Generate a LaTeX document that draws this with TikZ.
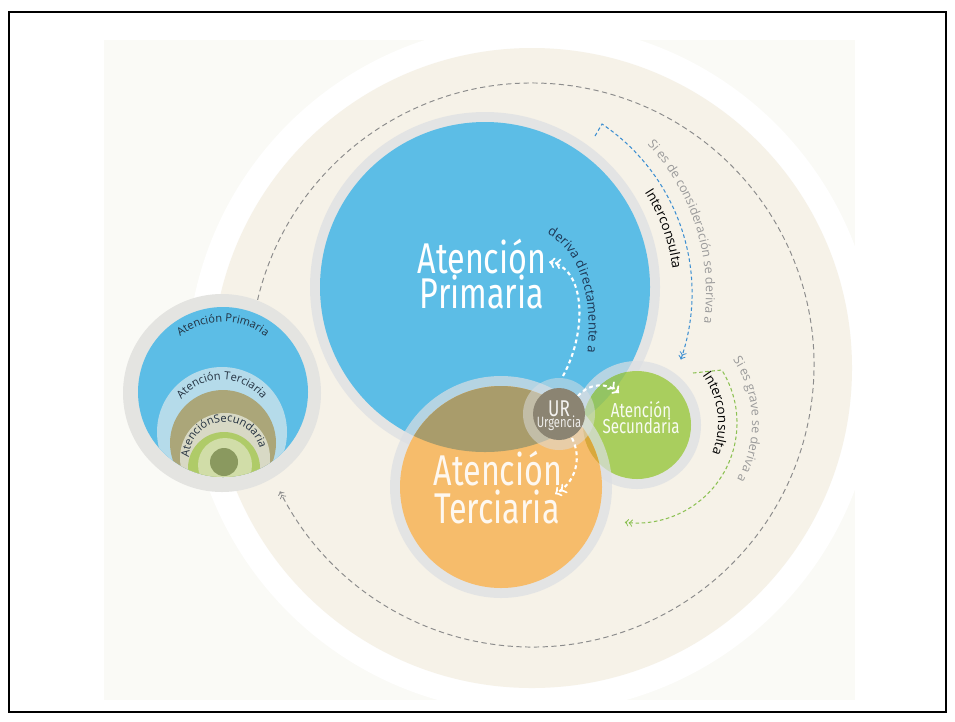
\documentclass[tikz,border=0pt]{standalone}
\usepackage{fontspec}
\setmainfont{Open Sans}
\newfontfamily\titfont[FakeStretch=0.75]{Fira Sans}
\usetikzlibrary{decorations.text}

\definecolor{fondo}{HTML}{FAFAF6}
\definecolor{crema}{HTML}{F6F2E8}
\definecolor{anillo}{HTML}{DCDFE3}
\definecolor{azul}{HTML}{5CBDE6}
\definecolor{naranja}{HTML}{F6BC6B}
\definecolor{verde}{HTML}{A9CE5E}
\definecolor{verdeazul}{HTML}{93C463}
\definecolor{oliva}{HTML}{A99C6B}
\definecolor{dorado}{HTML}{D8A83C}
\definecolor{urcol}{HTML}{8B8472}
\definecolor{gristxt}{HTML}{9A9A9A}
\definecolor{grislinea}{HTML}{8C8C8C}
\definecolor{azullinea}{HTML}{3D8FD1}
\definecolor{verdelinea}{HTML}{8CC152}
\definecolor{tinta}{HTML}{22303F}
\definecolor{marino}{HTML}{1D3755}
\definecolor{celeste}{HTML}{B5DBEA}
\definecolor{olivo}{HTML}{ABA679}
\definecolor{grisverde}{HTML}{D8D9C5}
\definecolor{verdeclaro}{HTML}{AFCB68}
\definecolor{verdepalido}{HTML}{D1DDA8}
\definecolor{verdeoscuro}{HTML}{8A995F}
\definecolor{grisclaro}{HTML}{E4E4E1}

\newcommand{\fuentearco}{\fontsize{7.6}{9}\selectfont}
\newcommand{\fuentegris}{\fontsize{7.1}{9}\selectfont}
\newcommand{\fuentepeq}{\fontsize{6.3}{8}\selectfont}

\begin{document}
\begin{tikzpicture}[x=0.02cm,y=0.02cm]
\tikzset{anillo/.style={fill=anillo, fill opacity=0.7}}
\tikzset{flecha/.style={dashed, ->>, line width=0.6pt, dash pattern=on 2pt off 1.5pt}}
\tikzset{flechablanca/.style={->>, white, line width=1.2pt, dash pattern=on 2.2pt off 1.8pt}}
\tikzset{titulo/.style={anchor=base, inner sep=0pt, font=\titfont\fontsize{24.5}{24}\selectfont}}
\tikzset{arco/.style={decorate, decoration={text along path, text align=center, text={#1}}}}
\useasboundingbox (0,0) rectangle (955,-721);

% fondo y circulo crema
\fill[fondo] (104,-40) rectangle (855,-700);
\coordinate (c0) at (532,-368);
\fill[white] (c0) circle (345);
\fill[crema] (c0) circle (320);

% circulo discontinuo exterior
\coordinate (c1) at (532,-365);
\draw[flecha, grislinea, line width=0.55pt, dash pattern=on 3pt off 2pt] (c1) ++(172:282) arc[start angle=172, end angle=-153.4, radius=282];

% circulos anidados de la izquierda
\coordinate (peq) at (222,-393);
\coordinate (pazul) at (223,-392);
\coordinate (pcel) at (222,-432);
\coordinate (pgv) at (225,-458);
\fill[grisclaro] (peq) circle (99);
\fill[azul] (pazul) circle (85);
\begin{scope}
\clip (pazul) circle (85);
\fill[celeste] (pcel) circle (65);
\fill[olivo] (223,-443) circle (53);
\fill[grisverde] (pgv) circle (45);
\fill[verdeclaro] (224,-468) circle (36);
\fill[verdepalido] (225,-465) circle (27);
\fill[verdeoscuro] (224,-462) circle (14);
\end{scope}
\path[arco={|\fuentepeq\color{tinta}|Atención Primaria}] (pazul) ++(165:70) arc[start angle=165, end angle=15, radius=70];
\path[arco={|\fuentepeq\color{tinta}|Atención Terciaria}] (pcel) ++(170:52) arc[start angle=170, end angle=10, radius=52];
\path[arco={|\fuentepeq\color{tinta}|AtenciónSecundaria}] (pgv) ++(197:36) arc[start angle=197, end angle=-3, radius=36];

% circulos principales
\coordinate (prim) at (485,-287);
\coordinate (ter) at (501,-487);
\coordinate (sec) at (637,-425);
\coordinate (ur) at (559,-414);
\fill[anillo] (prim) circle (175);
\fill[azul] (prim) circle (165);
\fill[anillo] (sec) circle (64);
\fill[verde] (sec) circle (54);
\begin{scope}
\clip (prim) circle (165);
\fill[verdeazul] (sec) circle (54);
\end{scope}
\fill[anillo] (ter) circle (111);
\fill[naranja] (ter) circle (101);
\begin{scope}
\clip (prim) circle (165);
\fill[oliva] (ter) circle (101);
\end{scope}
\begin{scope}
\clip (sec) circle (54);
\fill[dorado] (ter) circle (101);
\end{scope}
\fill[anillo, fill opacity=0.5] (ur) circle (36);
\fill[urcol] (ur) circle (26);

% textos
\node[titulo, white] (prim1) at (482,-273) {Atención};
\node[titulo, white] (prim2) at (482,-308) {Primaria};
\node[titulo, white!90!naranja] (ter1) at (498,-485) {Atención};
\node[titulo, white!90!naranja] (ter2) at (497,-523) {Terciaria};
\node[titulo, white!92!verde, font=\titfont\fontsize{11.5}{12}\selectfont] (sec1) at (641,-417) {Atención};
\node[titulo, white!92!verde, font=\titfont\fontsize{11.5}{12}\selectfont] (sec2) at (641,-433) {Secundaria};
\node[titulo, white!90!urcol, font=\titfont\fontsize{13}{13}\selectfont] (urt) at (559,-416) {UR};
\node[titulo, white!85!urcol, font=\titfont\fontsize{8.5}{9}\selectfont] (urg) at (559,-427) {Urgencia};

% flechas blancas desde urgencias
\coordinate (ura) at (563,-376);
\coordinate (pa) at (549,-262);
\coordinate (urb) at (578,-396);
\coordinate (sa) at (619,-393);
\coordinate (urc) at (572,-438);
\coordinate (ta) at (555,-494);
\draw[flechablanca] (ura) .. controls (588,-330) and (585,-268) .. (pa);
\draw[flechablanca] (urb) .. controls (590,-382) and (608,-383) .. (sa);
\draw[flechablanca] (urc) .. controls (582,-458) and (576,-482) .. (ta);
\path[decorate, decoration={text along path, text align=left, text={|\fontsize{7.4}{9}\selectfont\color{marino}|deriva directamente a}}] (547,-234) .. controls (590,-256) and (596,-325) .. (582,-384);

% interconsulta desde primaria
\coordinate (cb) at (488,-293);
\coordinate (ganchob) at (595,-136);
\coordinate (arcob) at (602,-124);
\draw[flecha, azullinea] (ganchob) -- (arcob) arc[start angle=56, end angle=-19, radius=204];
\path[arco={|\fuentearco\color{black}|Interconsulta}] (cb) ++(50:186) arc[start angle=50, end angle=-10, radius=186];
\path[arco={|\fuentegris\color{gristxt}|Si es de consideración se deriva a}] (cb) ++(55:218) arc[start angle=55, end angle=-20, radius=218];

% interconsulta desde secundaria
\coordinate (cv) at (637,-423);
\coordinate (ganchov) at (693,-373);
\coordinate (arcov) at (721.8,-370);
\draw[flecha, verdelinea] (ganchov) -- (arcov) arc[start angle=32, end angle=-97, radius=100];
\path[arco={|\fuentearco\color{black}|Interconsulta}] (cv) ++(60:81) arc[start angle=60, end angle=-46, radius=81];
\path[arco={|\fuentegris\color{gristxt}|Si es grave se deriva a}] (cv) ++(60:115) arc[start angle=60, end angle=-56, radius=115];

% marco
\draw[black, line width=0.05cm] (9,-12) rectangle (946,-712);
\end{tikzpicture}
\end{document}
